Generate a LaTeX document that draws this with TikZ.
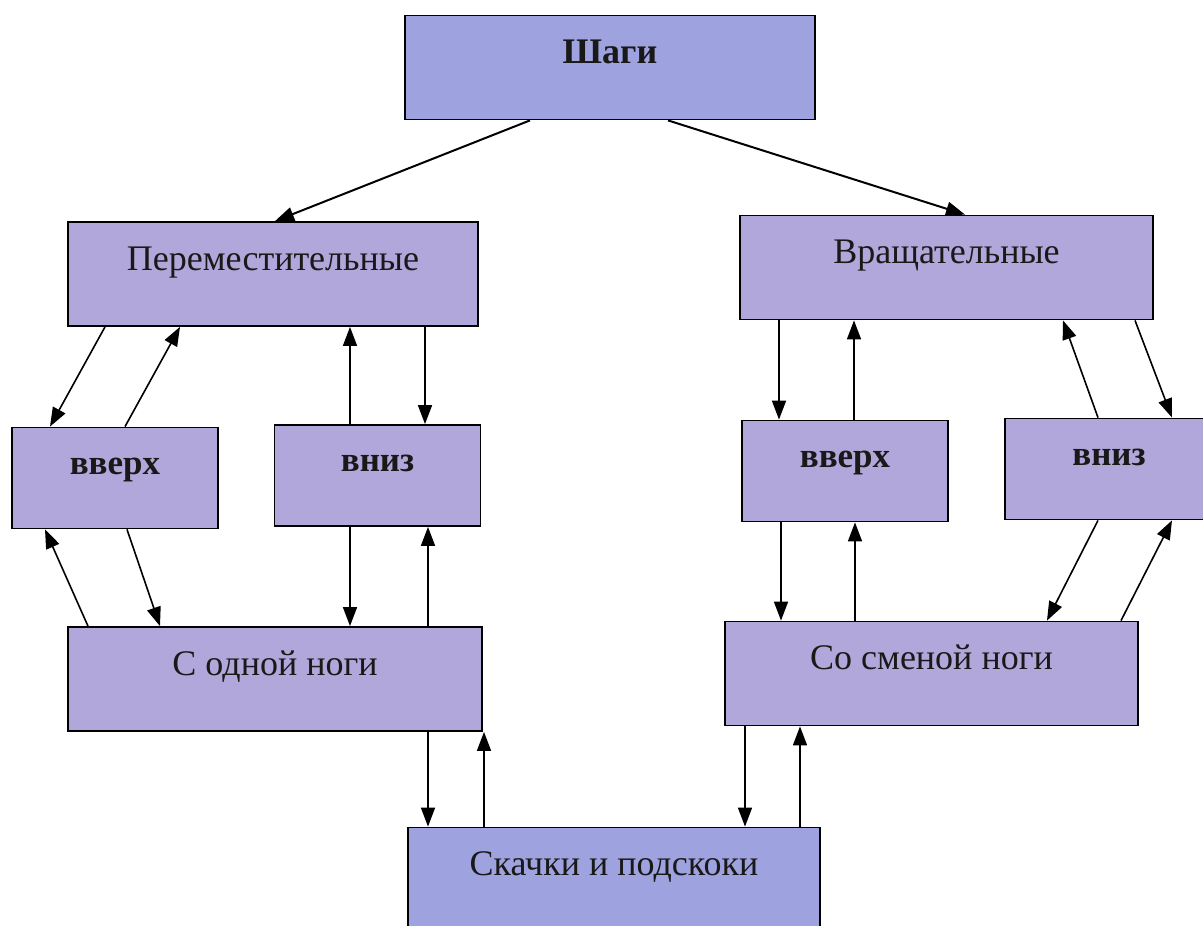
\documentclass[tikz,border=0pt]{standalone}
\usepackage{fontspec}
\setmainfont{Liberation Serif}
\usepackage{tikz}
\usetikzlibrary{arrows.meta, positioning}

\definecolor{boxblue}{HTML}{9EA2DE}
\definecolor{boxlilac}{HTML}{B2A7DA}

\begin{document}
\begin{tikzpicture}[
    x=1pt, y=-1pt,
    every node/.style={font=\fontsize{36}{42}\selectfont, text=black!90},
    box/.style={draw, line width=1.8pt, fill=boxlilac, minimum width=410pt, minimum height=104pt,
                text height=24pt, text depth=32pt, inner sep=0pt},
    small/.style={box, minimum width=206pt, minimum height=101pt, font=\fontsize{35}{40}\selectfont\bfseries},
    ar/.style={-{Triangle[length=19pt, width=14pt]}, line width=1.6pt}
]
\useasboundingbox[fill=white] (0,0) rectangle (1203,926);
% boxes
\node[box, fill=boxblue, font=\fontsize{36}{42}\selectfont\bfseries] (shagi) at (610,67.5) {Шаги};
\node[box] (perem) at (273,274) {Переместительные};
\node[box, minimum width=413pt] (vrasch) at (946.5,267.5) {Вращательные};
\node[small] (upL) at (115,478) {вверх};
\node[small] (downL) at (377.5,475.5) {вниз};
\node[small] (upR) at (845,471) {вверх};
\node[small, minimum width=208pt] (downR) at (1109,469) {вниз};
\node[box, minimum width=414pt] (oneL) at (275,679) {С одной ноги};
\node[box, minimum width=413pt] (changeR) at (931.5,673.5) {Со сменой ноги};
\node[box, fill=boxblue, minimum width=412pt] (jumps) at (614,879.5) {Скачки и подскоки};
% from the top
\draw[ar, line width=2pt] ([xshift=-80pt]shagi.south) -- ([xshift=2pt]perem.north);
\draw[ar, line width=2pt] ([xshift=58pt]shagi.south) -- ([xshift=18.5pt]vrasch.north);
% left side
\draw[ar] ([xshift=-168pt]perem.south) -- ([xshift=-65pt]upL.north);
\draw[ar] ([xshift=10pt]upL.north) -- ([xshift=-93pt]perem.south);
\draw[ar] ([xshift=-27.5pt]downL.north) -- ([xshift=77pt]perem.south);
\draw[ar] ([xshift=152pt]perem.south) -- ([xshift=47.5pt]downL.north);
\draw[ar] ([xshift=-187pt]oneL.north) -- ([xshift=-70pt]upL.south);
\draw[ar] ([xshift=12pt]upL.south) -- ([xshift=-115pt]oneL.north);
\draw[ar] ([xshift=-27.5pt]downL.south) -- ([xshift=75pt]oneL.north);
\draw[ar] ([xshift=153pt]oneL.north) -- ([xshift=50.5pt]downL.south);
\draw[ar] ([xshift=153pt]oneL.south) -- ([xshift=-186pt]jumps.north);
\draw[ar] ([xshift=-130pt]jumps.north) -- ([xshift=209pt]oneL.south);
% right side
\draw[ar] ([xshift=-167.5pt]vrasch.south) -- ([xshift=-66pt]upR.north);
\draw[ar] ([xshift=9pt]upR.north) -- ([xshift=-92.5pt]vrasch.south);
\draw[ar] ([xshift=-11pt]downR.north) -- ([xshift=116.5pt]vrasch.south);
\draw[ar] ([xshift=188.5pt]vrasch.south) -- ([xshift=63pt]downR.north);
\draw[ar] ([xshift=-64pt]upR.south) -- ([xshift=-150.5pt]changeR.north);
\draw[ar] ([xshift=-76.5pt]changeR.north) -- ([xshift=10pt]upR.south);
\draw[ar] ([xshift=-11pt]downR.south) -- ([xshift=115.5pt]changeR.north);
\draw[ar] ([xshift=189.5pt]changeR.north) -- ([xshift=63pt]downR.south);
\draw[ar] ([xshift=-186.5pt]changeR.south) -- ([xshift=131pt]jumps.north);
\draw[ar] ([xshift=186pt]jumps.north) -- ([xshift=-131.5pt]changeR.south);
\end{tikzpicture}
\end{document}
